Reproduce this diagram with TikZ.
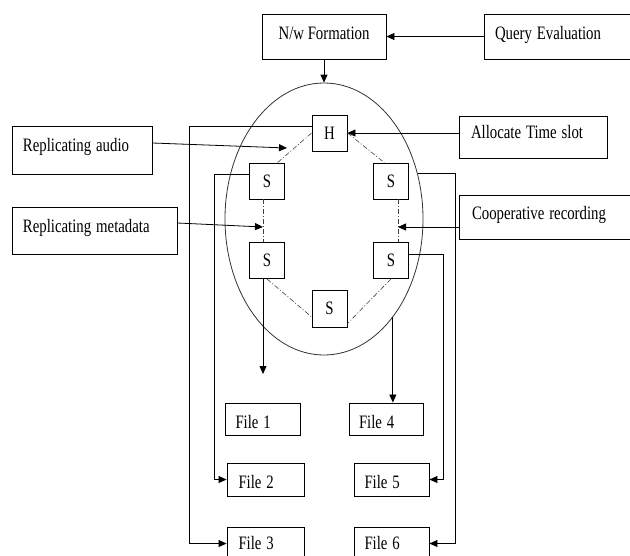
\documentclass[tikz,border=0pt]{standalone}
\usepackage{fontspec}
\setmainfont{Liberation Serif}
\usetikzlibrary{arrows.meta,shapes.geometric}
\newcommand{\vtext}[1]{\scalebox{1}[1.28]{#1}}
\tikzset{
  box/.style={draw, line width=0.9pt, inner sep=0pt, text depth=0pt,
    font=\fontsize{14.8}{17}\selectfont},
  bl/.style={text height=#1},
  lbox/.style={box, align=left},
  sbox/.style={box, minimum width=35pt, minimum height=36pt, bl=12pt},
  filebox/.style={box, align=left, minimum width=76pt, minimum height=33pt,
    text width=54pt, bl=18pt},
  arr/.style={line width=0.8pt, -{Triangle[length=8pt,width=7pt]}},
  ringline/.style={line width=0.6pt, black!75,
    dash pattern=on 5pt off 2pt on 1pt off 2pt},
}
\begin{document}
\begin{tikzpicture}[x=1pt,y=-1pt]
\useasboundingbox (0,0) rectangle (630,555);
% network ring
\node[draw, black!80, line width=0.8pt, ellipse, minimum width=198pt,
  minimum height=272pt, inner sep=0pt] (ring) at (324,219) {};
% top boxes
\node[box, align=center, minimum width=124pt, minimum height=45pt, bl=5pt]
  (nwf) at (324,36.5) {\vtext{N/w Formation}};
\node[lbox, minimum width=156pt, minimum height=45pt, text width=134pt, bl=5pt]
  (query) at (562,36.5) {\vtext{Query Evaluation}};
\node[lbox, minimum width=148pt, minimum height=42pt, text width=124pt, bl=2pt]
  (alloc) at (533,137) {\vtext{Allocate Time slot}};
\node[lbox, minimum width=181pt, minimum height=44pt, text width=155pt, bl=4pt]
  (coop) at (549.5,217) {\vtext{Cooperative recording}};
\node[lbox, minimum width=140pt, minimum height=48pt, text width=118pt, bl=2pt]
  (audio) at (82,150) {\vtext{Replicating audio}};
\node[lbox, minimum width=165pt, minimum height=47pt, text width=143pt, bl=3pt]
  (meta) at (94.5,230.5) {\vtext{Replicating metadata}};
% head and slaves
\node[sbox] (head) at (329.5,133) {\vtext{H}};
\node[sbox] (s1) at (267,181) {\vtext{S}};
\node[sbox] (s2) at (391,181) {\vtext{S}};
\node[sbox] (s3) at (267,260.5) {\vtext{S}};
\node[sbox] (s4) at (391,260.5) {\vtext{S}};
\node[sbox, minimum height=37pt] (s5) at (329.5,308.5) {\vtext{S}};
% files
\node[filebox, minimum width=75pt, minimum height=32pt] (f1) at (262.5,419) {\vtext{File 1}};
\node[filebox, minimum width=74pt, minimum height=32pt] (f4) at (386,419) {\vtext{File 4}};
\node[filebox, minimum width=77pt] (f2) at (265.5,479.5) {\vtext{File 2}};
\node[filebox, minimum width=75pt] (f5) at (391.5,479.5) {\vtext{File 5}};
\node[filebox, minimum width=77pt, bl=12pt] (f3) at (265.5,543.5) {\vtext{File 3}};
\node[filebox, minimum width=75pt, bl=12pt] (f6) at (391.5,543.5) {\vtext{File 6}};
% arrow tips on the ring
\coordinate (ra) at (287,148);
\coordinate (rm) at (263,227);
\coordinate (cr) at (398,227);
\coordinate (f1in) at (263,374);
% ring links
\draw[ringline] (head.west) -- (s1.60);
\draw[ringline] (head.east) -- (s2.110);
\draw[ringline] (s1.south -| rm) -- (s3.north -| rm);
\draw[ringline] (s2.south -| cr) -- (s4.north -| cr);
\draw[ringline] (s3.south) -- (s5.205);
\draw[ringline] (s4.south) -- (s5.320);
% inputs
\draw[arr] (query.west) -- (nwf.east);
\draw[arr] (nwf.south) -- (ring.north);
\draw[arr] (alloc.west |- head.east) -- (head.east);
\draw[arr] ([yshift=7pt]audio.east) -- (ra);
\draw[arr] ([yshift=7.5pt]meta.east) -- (rm);
\draw[arr] (coop.west |- cr) -- (cr);
% outputs to files
\draw[arr] ([yshift=7pt]head.west) -- ++(-122,0) |- (f3.west);
\draw[arr] ([yshift=7pt]s1.west) -- ++(-35,0) |- (f2.west);
\draw[arr] (ring.26) -- ++(38,0) |- (f6.east);
\draw[arr] ([yshift=6.5pt]s4.east) -- ++(34,0) |- (f5.east);
\draw[arr] (s3.south -| rm) -- (f1in);
\draw[arr] (ring.-55) -- (ring.-55 |- f4.north);
\end{tikzpicture}
\end{document}
